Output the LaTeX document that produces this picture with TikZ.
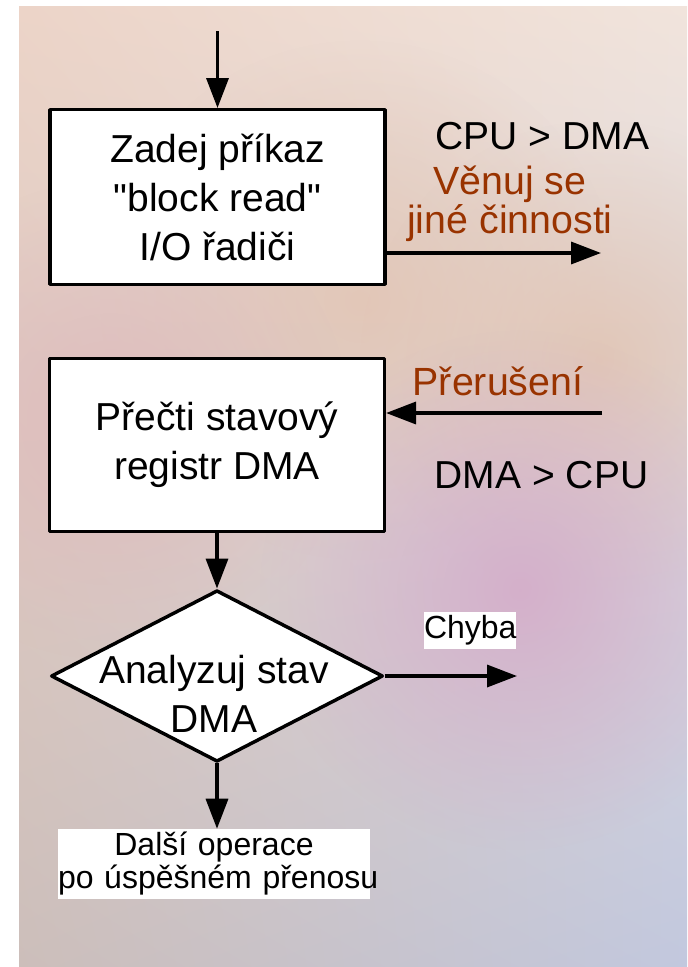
\documentclass[tikz,border=0pt]{standalone}
\usepackage{fontspec}
\setmainfont{Liberation Sans}[Ligatures=TeXOff]
\usetikzlibrary{arrows.meta,shapes.geometric,fadings,shadings}
\definecolor{brownlbl}{RGB}{153,51,0}
\definecolor{bgul}{RGB}{236,212,200}
\definecolor{bgur}{RGB}{241,228,220}
\definecolor{bgll}{RGB}{204,190,186}
\definecolor{bglr}{RGB}{194,200,222}
\definecolor{bgmauve}{RGB}{212,174,202}
\definecolor{bgpeach}{RGB}{226,196,178}
\definecolor{bgpink}{RGB}{222,186,188}
\newcommand{\mainsz}{\fontsize{29.25pt}{36.75pt}\selectfont}
\newcommand{\lblsz}{\fontsize{29.5pt}{26.25pt}\selectfont}
\newcommand{\smallsz}{\fontsize{24pt}{24.75pt}\selectfont}
\tikzfading[name=fuzzyblob, inner color=transparent!0, outer color=transparent!100]
\begin{document}
\begin{tikzpicture}[x=0.75pt,y=-0.75pt,
  box/.style={draw=black, line width=2.6pt, fill=white, line join=round, inner sep=0pt, align=center, font=\mainsz, minimum width=251pt},
  decision/.style={shape=diamond, draw=black, line width=2.6pt, fill=white, line join=round, inner sep=0pt, minimum width=249pt, minimum height=128.6pt},
  txt/.style={inner sep=0pt, align=center, font=\mainsz},
  lbl/.style={inner sep=0pt, align=center, font=\lblsz, text=brownlbl},
  smalllbl/.style={inner sep=0pt, fill=white, font=\smallsz},
  arr/.style={line width=2.6pt, -{Triangle[length=22.5pt,width=16.5pt]}}
]
% page and background
\fill[white] (0,0) rectangle (687,967);
\shade[upper left=bgul, upper right=bgur, lower left=bgll, lower right=bglr] (19,6) rectangle (687,967);
\begin{scope}
\clip (19,6) rectangle (687,967);
\fill[bgpeach, path fading=fuzzyblob, fill opacity=0.8] (360,300) circle (260);
\fill[bgpink, path fading=fuzzyblob, fill opacity=0.9] (110,420) circle (240);
\fill[bgpeach, path fading=fuzzyblob, fill opacity=0.85] (600,360) circle (240);
\fill[bgmauve, path fading=fuzzyblob, fill opacity=0.95] (520,590) circle (260);
\end{scope}

% nodes
\node[box, minimum height=130.9pt] (box1) at (217.5,197) {Zadej příkaz\\"block read"\\I/O řadiči};
\node[box, minimum height=129.4pt] (box2) at (217,445) {Přečti stavový\\registr DMA};
\node[decision] (dia) at (217,676) {};
\node[txt, anchor=base] (diatext) at (214,732) {Analyzuj stav\\DMA};
\node[smalllbl, text width=234pt, align=center, minimum height=52.5pt] (next) at (214,864) {Další operace\\\mbox{po úspěšném přenosu}};
\node[smalllbl, text width=69pt, align=left, minimum height=27.75pt] (chyba) at (470,630.5) {Chyba};

\node[txt, anchor=base] (cpudma) at (542.5,149) {CPU > DMA};
\node[lbl, anchor=base] (venuj) at (510,233) {Věnuj se\\jiné činnosti};
\node[lbl, anchor=base] (preruseni) at (498,395) {Přerušení};
\node[txt, anchor=base] (dmacpu) at (541.5,488) {DMA > CPU};

% connectors
\coordinate (start) at (217.5,31);
\coordinate (out1) at (601,253);
\coordinate (irq) at (602,413);
\coordinate (err) at (517,676);
\draw[arr] (start) -- (box1.north);
\draw[arr] (box1.east |- out1) -- (out1);
\draw[arr] (irq) -- (box2.east |- irq);
\draw[arr] (box2.south) -- (dia.north);
\draw[arr] (dia.east) -- (err);
\draw[arr] (dia.south) -- (dia.south |- next.north);
\end{tikzpicture}
\end{document}
